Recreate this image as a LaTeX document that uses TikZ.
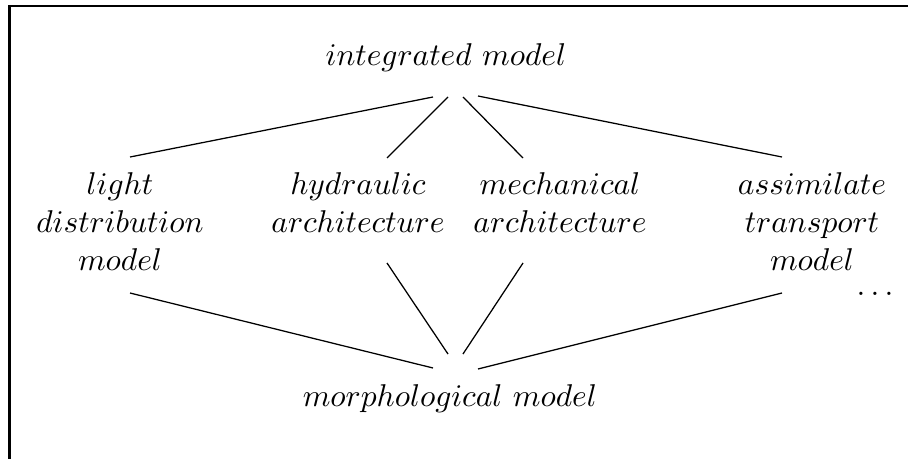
\documentclass[tikz,border=0pt]{standalone}
\begin{document}
\begin{tikzpicture}[x=0.3175pt,y=-0.3175pt,
  lbl/.style={inner sep=0pt, outer sep=0pt, align=center, anchor=base,
              font=\fontsize{10}{12}\selectfont},
  link/.style={line width=0.4pt},
  frame/.style={line width=0.95pt}]
\useasboundingbox (0,0) rectangle (908,459);
% open frame: left and top edges only
\draw[frame] (9.5,459) -- (9.5,6) -- (908,6);

% model names (anchor=base sits on the last line)
\node[lbl] (integ) at (446,66) {$integrated\ model$};
\node[lbl] (light) at (120,270) {$light$\\$distribution$\\$model$};
\node[lbl] (hydr)  at (358,232) {$hydraulic$\\$architecture$};
\node[lbl] (mech)  at (560,232) {$mechanical$\\$architecture$};
\node[lbl] (assim) at (812,270) {$assimilate$\\$transport$\\$model$};
\node[lbl] (more)  at (875,295) {$\ldots$};
\node[lbl] (morph) at (450,406) {$morphological\ model$};

% line ends
\coordinate (i1) at (433,97);  \coordinate (l1) at (130,157);
\coordinate (i2) at (448,97);  \coordinate (h1) at (387,158);
\coordinate (i3) at (463,97);  \coordinate (m1) at (523,158);
\coordinate (i4) at (478,96);  \coordinate (a1) at (782,157);
\coordinate (l2) at (130,293); \coordinate (p1) at (433,368);
\coordinate (h2) at (387,263); \coordinate (p2) at (448,354);
\coordinate (m2) at (523,263); \coordinate (p3) at (463,354);
\coordinate (a2) at (782,293); \coordinate (p4) at (478,369);

\draw[link] (i1) -- (l1);
\draw[link] (i2) -- (h1);
\draw[link] (i3) -- (m1);
\draw[link] (i4) -- (a1);
\draw[link] (l2) -- (p1);
\draw[link] (h2) -- (p2);
\draw[link] (m2) -- (p3);
\draw[link] (a2) -- (p4);
\end{tikzpicture}
\end{document}
